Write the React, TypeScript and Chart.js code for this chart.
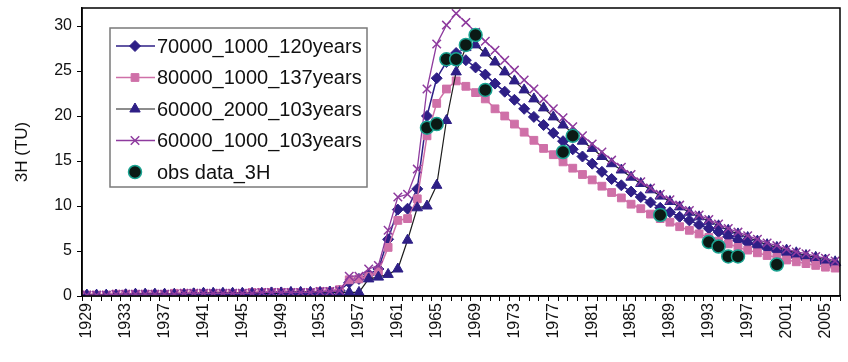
import React, { useEffect, useRef } from 'react';
import { Chart, registerables } from 'chart.js';

Chart.register(...registerables);

const years = [
  '1929','1930','1931','1932','1933','1934','1935','1936','1937','1938',
  '1939','1940','1941','1942','1943','1944','1945','1946','1947','1948',
  '1949','1950','1951','1952','1953','1954','1955','1956','1957','1958',
  '1959','1960','1961','1962','1963','1964','1965','1966','1967','1968',
  '1969','1970','1971','1972','1973','1974','1975','1976','1977','1978',
  '1979','1980','1981','1982','1983','1984','1985','1986','1987','1988',
  '1989','1990','1991','1992','1993','1994','1995','1996','1997','1998',
  '1999','2000','2001','2002','2003','2004','2005','2006'
];

const s70000_1000_120 = [
  0.1,0.1,0.1,0.1,0.2,0.2,0.2,0.2,0.2,0.2,0.2,0.3,0.3,0.3,0.3,0.3,0.3,0.3,0.3,0.4,0.4,0.4,0.4,0.4,0.4,0.5,0.6,
  1.5,1.9,2.4,3.0,6.3,9.6,9.7,11.9,20.0,24.2,26.0,27.0,26.2,25.4,24.6,23.6,22.7,21.8,20.8,19.9,
  19.0,18.1,17.2,16.3,15.5,14.7,13.8,13.0,12.3,11.6,11.0,10.4,9.8,9.3,8.8,8.4,7.9,7.5,7.1,6.6,
  6.2,5.9,5.5,5.3,5.0,4.6,4.3,4.1,3.9,3.6,3.4
];

const s80000_1000_137 = [
  0.1,0.1,0.1,0.2,0.2,0.2,0.2,0.2,0.2,0.3,0.3,0.3,0.3,0.3,0.3,0.3,0.3,0.4,0.4,0.4,0.4,0.4,0.4,0.4,0.5,0.5,0.7,
  1.8,1.9,2.2,2.7,5.4,8.4,8.6,10.8,17.8,21.4,23.0,23.9,23.3,22.6,21.9,20.8,20.0,19.1,18.2,17.3,
  16.4,15.7,14.9,14.2,13.5,12.9,12.2,11.5,10.9,10.2,9.7,9.1,8.6,8.2,7.7,7.3,6.9,6.5,6.1,5.8,
  5.4,5.1,4.8,4.5,4.3,4.0,3.8,3.6,3.4,3.2,3.1
];

const s60000_2000_103 = [
  0.1,0.1,0.1,0.1,0.1,0.2,0.2,0.2,0.2,0.2,0.2,0.2,0.3,0.3,0.3,0.3,0.3,0.3,0.3,0.3,0.3,0.4,0.4,0.4,0.4,0.4,0.4,
  0.4,0.4,1.9,2.1,2.4,3.0,6.2,9.8,10.0,12.3,19.5,24.9,27.6,27.9,27.0,26.0,24.9,23.9,22.9,21.9,
  20.9,19.9,19.0,18.1,17.2,16.4,15.5,14.7,14.0,13.2,12.5,11.8,11.1,10.5,9.9,9.3,8.8,8.3,7.8,7.3,
  6.9,6.5,6.1,5.7,5.4,5.1,4.8,4.5,4.3,4.0,3.8
];

const s60000_1000_103 = [
  0.1,0.1,0.1,0.2,0.2,0.2,0.2,0.2,0.2,0.2,0.3,0.3,0.3,0.3,0.3,0.3,0.3,0.3,0.4,0.4,0.4,0.4,0.4,0.4,0.5,0.5,0.6,
  2.2,2.2,3.0,3.4,7.3,11.0,11.3,14.1,23.0,28.0,30.1,31.4,30.4,29.3,28.3,27.3,26.2,25.1,24.0,23.0,
  21.9,20.8,19.8,18.8,17.8,16.9,16.0,15.1,14.3,13.5,12.7,12.0,11.3,10.7,10.1,9.5,9.0,8.5,8.0,7.5,
  7.1,6.7,6.3,5.9,5.6,5.2,4.9,4.7,4.4,4.2,3.9
];

const obsYears = ['1964','1965','1966','1967','1968','1969','1970','1978','1979','1988','1993','1994','1995','1996','2000'];
const obsValues = [18.7,19.1,26.3,26.3,27.9,29.0,22.9,16.0,17.8,9.0,6.0,5.5,4.4,4.4,3.5];

const yTicks = [0, 5, 10, 15, 20, 25, 30];

const FONT = "'Liberation Sans', Arial, sans-serif";

function drawMarker(ctx: CanvasRenderingContext2D, style: string, x: number, y: number, r: number, fill: string, stroke: string, bw: number) {
  ctx.save();
  ctx.fillStyle = fill;
  ctx.strokeStyle = stroke;
  ctx.lineWidth = bw;
  ctx.beginPath();
  if (style === 'rectRot') {
    ctx.moveTo(x, y - r); ctx.lineTo(x + r, y); ctx.lineTo(x, y + r); ctx.lineTo(x - r, y); ctx.closePath();
    ctx.fill(); ctx.stroke();
  } else if (style === 'rect') {
    const s = r * Math.SQRT1_2;
    ctx.rect(x - s, y - s, 2 * s, 2 * s);
    ctx.fill(); ctx.stroke();
  } else if (style === 'triangle') {
    let a = 0;
    ctx.moveTo(x + Math.sin(a) * r, y - Math.cos(a) * r);
    a += (2 * Math.PI) / 3;
    ctx.lineTo(x + Math.sin(a) * r, y - Math.cos(a) * r);
    a += (2 * Math.PI) / 3;
    ctx.lineTo(x + Math.sin(a) * r, y - Math.cos(a) * r);
    ctx.closePath();
    ctx.fill(); ctx.stroke();
  } else if (style === 'crossRot') {
    const d = r * Math.SQRT1_2;
    ctx.moveTo(x - d, y - d); ctx.lineTo(x + d, y + d);
    ctx.moveTo(x - d, y + d); ctx.lineTo(x + d, y - d);
    ctx.stroke();
  } else {
    ctx.arc(x, y, r, 0, Math.PI * 2);
    ctx.fill(); ctx.stroke();
  }
  ctx.restore();
}

const framePlugin = {
  id: 'frameAndLegend',
  afterDraw(chart: any) {
    const ctx: CanvasRenderingContext2D = chart.ctx;
    const a = chart.chartArea;
    ctx.save();
    ctx.strokeStyle = '#000';
    ctx.lineWidth = 1.5;
    ctx.strokeRect(a.left, a.top, a.right - a.left, a.bottom - a.top);

    // legend box
    const bx = a.left + 28;
    const by = a.top + 20;
    const bw = 257;
    const bh = 159;
    ctx.fillStyle = '#fff';
    ctx.fillRect(bx, by, bw, bh);
    ctx.strokeStyle = '#7a7a7a';
    ctx.lineWidth = 1.5;
    ctx.strokeRect(bx, by, bw, bh);

    const dsList = chart.data.datasets;
    ctx.font = `20px ${FONT}`;
    ctx.textBaseline = 'middle';
    ctx.textAlign = 'left';
    dsList.forEach((ds: any, i: number) => {
      const y = by + 18 + i * 31.5;
      const mx = bx + 25;
      if (ds.showLine !== false) {
        ctx.strokeStyle = ds.borderColor;
        ctx.lineWidth = ds.borderWidth;
        ctx.beginPath();
        ctx.moveTo(bx + 6, y);
        ctx.lineTo(bx + 45, y);
        ctx.stroke();
      }
      drawMarker(ctx, ds.pointStyle, mx, y, ds.pointRadius, ds.pointBackgroundColor, ds.pointBorderColor, ds.pointBorderWidth);
      ctx.fillStyle = '#111';
      ctx.fillText(ds.label, bx + 47, y + 1);
    });
    ctx.restore();
  }
};

export default function App() {
  const ref = useRef<HTMLCanvasElement | null>(null);

  useEffect(() => {
    if (!ref.current) return;
    const navy = '#2E1F86';
    const pink = '#CF70A8';
    const purple = '#8E3B9E';
    const chart = new Chart(ref.current, {
      type: 'line',
      data: {
        labels: years,
        datasets: [
          {
            label: '70000_1000_120years',
            data: s70000_1000_120,
            borderColor: navy,
            borderWidth: 1.5,
            pointStyle: 'rectRot',
            pointRadius: 5.5,
            pointBackgroundColor: navy,
            pointBorderColor: navy,
            pointBorderWidth: 1,
            order: 4,
          },
          {
            label: '80000_1000_137years',
            data: s80000_1000_137,
            borderColor: pink,
            borderWidth: 1.5,
            pointStyle: 'rect',
            pointRadius: 5.5,
            pointBackgroundColor: pink,
            pointBorderColor: pink,
            pointBorderWidth: 1,
            order: 3,
          },
          {
            label: '60000_2000_103years',
            data: s60000_2000_103,
            borderColor: '#1c1c1c',
            borderWidth: 1.2,
            pointStyle: 'triangle',
            pointRadius: 6,
            pointBackgroundColor: navy,
            pointBorderColor: navy,
            pointBorderWidth: 1,
            order: 2,
          },
          {
            label: '60000_1000_103years',
            data: s60000_1000_103,
            borderColor: purple,
            borderWidth: 1.3,
            pointStyle: 'crossRot',
            pointRadius: 6,
            pointBackgroundColor: purple,
            pointBorderColor: purple,
            pointBorderWidth: 1.5,
            order: 1,
          },
          {
            label: 'obs data_3H',
            data: obsYears.map((y, i) => ({ x: y, y: obsValues[i] })),
            showLine: false,
            borderColor: '#1BA391',
            borderWidth: 0,
            pointStyle: 'circle',
            pointRadius: 6.5,
            pointBackgroundColor: '#0B1A15',
            pointBorderColor: '#1BA391',
            pointBorderWidth: 1.5,
            order: 0,
          },
        ] as any,
      },
      options: {
        responsive: false,
        animation: false,
        devicePixelRatio: 1,
        layout: { padding: { top: 7, right: 3, left: 0, bottom: 0 } },
        plugins: {
          legend: { display: false },
          tooltip: { enabled: false },
        },
        scales: {
          x: {
            type: 'category',
            offset: true,
            grid: {
              offset: true,
              drawOnChartArea: false,
              drawTicks: true,
              tickLength: 5,
              color: '#000',
              lineWidth: 1,
            },
            border: { display: true, color: '#000', width: 1.5 },
            ticks: {
              autoSkip: false,
              maxRotation: 90,
              minRotation: 90,
              padding: 2,
              color: '#111',
              font: { size: 16, family: FONT },
              callback: function (this: any, value: any, index: number) {
                return index % 4 === 0 ? years[index] : '';
              },
            },
            afterFit: (scale: any) => {
              scale.height = 66;
              scale.paddingLeft = 0;
              scale.paddingRight = 0;
            },
          },
          y: {
            min: 0,
            max: 32,
            grid: {
              drawOnChartArea: false,
              drawTicks: true,
              tickLength: 5,
              color: '#000',
            },
            border: { display: true, color: '#000', width: 1.5 },
            ticks: {
              stepSize: 5,
              includeBounds: false,
              padding: 5,
              color: '#111',
              font: { size: 16, family: FONT },
              callback: (v: any) => (yTicks.includes(Number(v)) ? String(v) : ''),
            },
            title: {
              display: true,
              text: '3H (TU)',
              color: '#111',
              font: { size: 17, family: FONT },
              padding: { top: 12, bottom: 0 },
            },
            afterFit: (scale: any) => {
              scale.width = 82;
              scale.paddingTop = 0;
              scale.paddingBottom = 0;
            },
          },
        },
      } as any,
      plugins: [framePlugin],
    });
    return () => chart.destroy();
  }, []);

  return (
    <div style={{ position: 'fixed', left: 0, top: 0, width: 848, height: 362, background: '#fff' }}>
      <canvas ref={ref} width={848} height={362} style={{ display: 'block' }} />
    </div>
  );
}
